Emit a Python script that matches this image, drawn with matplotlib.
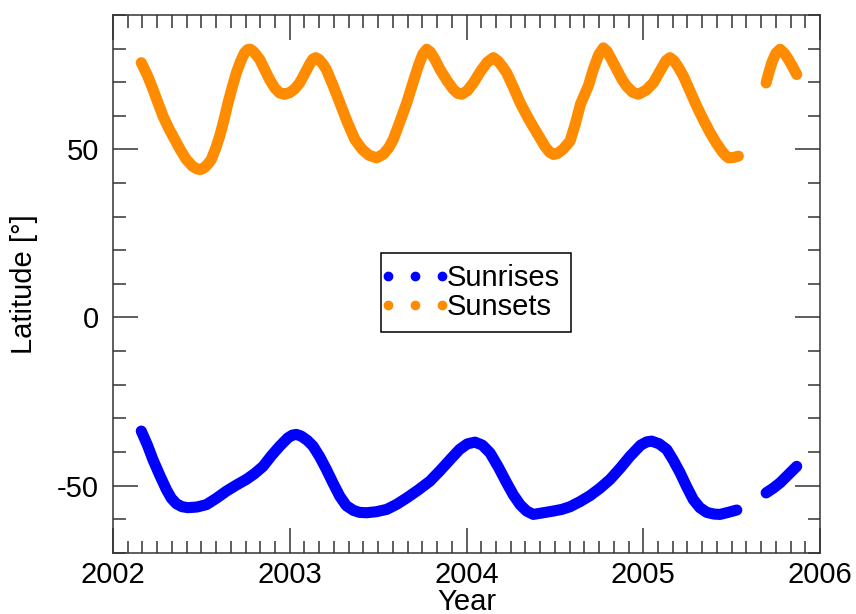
import numpy as np
import matplotlib
matplotlib.use('Agg')
import matplotlib.pyplot as plt
from matplotlib.lines import Line2D
from matplotlib.legend_handler import HandlerLine2D
from matplotlib.ticker import MultipleLocator

plt.rcParams['font.family'] = ['Liberation Sans', 'DejaVu Sans']
plt.rcParams['axes.unicode_minus'] = False

# sunsets (orange); two stretches with a gap in mid 2005
sunset_year_a = [2002.160, 2002.195, 2002.226, 2002.255, 2002.283, 2002.315, 2002.349, 2002.382,
                 2002.415, 2002.450, 2002.475, 2002.494, 2002.515, 2002.536, 2002.556, 2002.580,
                 2002.604, 2002.628, 2002.651, 2002.675, 2002.698, 2002.722, 2002.745, 2002.762,
                 2002.777, 2002.795, 2002.812, 2002.830, 2002.858, 2002.886, 2002.915, 2002.943,
                 2002.971, 2003.000, 2003.028, 2003.056, 2003.085, 2003.115, 2003.132, 2003.147,
                 2003.165, 2003.186, 2003.207, 2003.245, 2003.283, 2003.325, 2003.368, 2003.410,
                 2003.450, 2003.492, 2003.530, 2003.560, 2003.586, 2003.625, 2003.662, 2003.695,
                 2003.727, 2003.752, 2003.775, 2003.795, 2003.820, 2003.850, 2003.888, 2003.925,
                 2003.950, 2003.973, 2004.005, 2004.039, 2004.080, 2004.118, 2004.152, 2004.180,
                 2004.205, 2004.227, 2004.265, 2004.303, 2004.350, 2004.397, 2004.445, 2004.470,
                 2004.491, 2004.515, 2004.545, 2004.586, 2004.615, 2004.645, 2004.690, 2004.717,
                 2004.748, 2004.774, 2004.795, 2004.820, 2004.850, 2004.880, 2004.906, 2004.940,
                 2004.972, 2005.015, 2005.057, 2005.100, 2005.130, 2005.151, 2005.175, 2005.200,
                 2005.227, 2005.265, 2005.302, 2005.340, 2005.378, 2005.412, 2005.444, 2005.465,
                 2005.482, 2005.510, 2005.538]
sunset_lat_a = [75.8, 72.0, 67.9, 63.8, 59.9, 56.3, 53.0, 49.8,
                47.0, 45.0, 44.2, 44.0, 44.5, 45.6, 47.0, 50.2,
                54.0, 58.8, 63.9, 68.6, 72.8, 76.2, 78.8, 79.7,
                79.8, 79.1, 78.0, 76.8, 73.8, 70.8, 68.3, 66.8,
                66.4, 66.9, 68.0, 69.8, 72.6, 75.6, 76.9, 77.3,
                76.8, 75.5, 73.8, 69.0, 63.9, 58.2, 53.0, 50.0,
                48.2, 47.5, 48.6, 50.5, 53.0, 58.5, 63.9, 69.5,
                74.8, 78.3, 79.8, 79.0, 76.9, 73.8, 70.6, 67.9,
                66.7, 66.4, 67.5, 69.8, 73.3, 76.0, 77.3, 76.2,
                74.5, 72.8, 68.5, 63.9, 59.2, 55.0, 50.8, 49.2,
                48.5, 48.8, 50.0, 52.5, 57.5, 63.5, 69.0, 73.8,
                78.2, 80.2, 79.2, 76.8, 73.8, 70.8, 68.8, 67.0,
                66.4, 67.6, 69.8, 73.8, 76.5, 77.3, 76.3, 74.3,
                71.8, 67.3, 62.9, 58.8, 55.0, 52.0, 49.5, 48.2,
                47.5, 47.6, 48.0]
sunset_year_b = [2005.695, 2005.710, 2005.727, 2005.750, 2005.774, 2005.798, 2005.821, 2005.845,
                 2005.868]
sunset_lat_b = [69.8, 72.8, 75.8, 78.6, 79.8, 78.6, 76.8, 74.6, 72.3]

# sunrises (blue)
sunrise_year_a = [2002.160, 2002.195, 2002.226, 2002.265, 2002.302, 2002.330, 2002.358, 2002.390,
                  2002.424, 2002.475, 2002.528, 2002.585, 2002.641, 2002.700, 2002.754, 2002.800,
                  2002.849, 2002.895, 2002.943, 2002.990, 2003.015, 2003.037, 2003.065, 2003.100,
                  2003.132, 2003.170, 2003.207, 2003.245, 2003.283, 2003.320, 2003.360, 2003.395,
                  2003.435, 2003.490, 2003.549, 2003.605, 2003.662, 2003.730, 2003.793, 2003.850,
                  2003.907, 2003.960, 2004.005, 2004.048, 2004.090, 2004.133, 2004.180, 2004.227,
                  2004.265, 2004.303, 2004.340, 2004.378, 2004.435, 2004.491, 2004.540, 2004.586,
                  2004.642, 2004.699, 2004.755, 2004.812, 2004.870, 2004.925, 2004.985, 2005.020,
                  2005.048, 2005.090, 2005.133, 2005.170, 2005.208, 2005.245, 2005.283, 2005.320,
                  2005.359, 2005.400, 2005.434, 2005.480, 2005.529]
sunrise_lat_a = [-33.8, -38.0, -42.3, -47.0, -51.2, -53.8, -55.4, -56.3,
                 -56.6, -56.4, -55.7, -53.8, -51.7, -49.8, -48.2, -46.5,
                 -44.3, -41.2, -38.3, -35.8, -35.0, -34.8, -35.3, -36.6,
                 -38.3, -41.5, -45.2, -49.3, -53.2, -56.0, -57.4, -58.0,
                 -58.1, -57.8, -57.1, -55.6, -53.7, -51.2, -48.7, -45.6,
                 -42.3, -39.3, -37.6, -37.1, -38.0, -40.3, -44.5, -49.2,
                 -52.8, -55.7, -57.6, -58.6, -58.1, -57.6, -57.1, -56.3,
                 -54.8, -53.0, -50.8, -48.2, -44.8, -41.3, -38.0, -37.0,
                 -36.8, -37.6, -39.3, -42.5, -46.2, -50.3, -54.2, -56.6,
                 -58.0, -58.5, -58.6, -58.0, -57.3]
sunrise_year_b = [2005.695, 2005.735, 2005.774, 2005.820, 2005.868]
sunrise_lat_b = [-52.2, -50.8, -49.2, -46.8, -44.3]

labels = ['Sunrises', 'Sunsets']
colors = ['#0000ff', '#ff8c00']

fig = plt.figure(figsize=(8.56, 6.14), dpi=100)
ax = fig.add_axes([0.132, 0.0998, 0.826, 0.8758])

line_kw = dict(lw=8, solid_capstyle='round', solid_joinstyle='round')
ax.plot(sunrise_year_a, sunrise_lat_a, color=colors[0], **line_kw)
ax.plot(sunrise_year_b, sunrise_lat_b, color=colors[0], **line_kw)
ax.plot(sunset_year_a, sunset_lat_a, color=colors[1], **line_kw)
ax.plot(sunset_year_b, sunset_lat_b, color=colors[1], **line_kw)

ax.set_xlim(2002, 2006)
ax.set_ylim(-70, 90)
ax.xaxis.set_major_locator(MultipleLocator(1))
ax.xaxis.set_minor_locator(MultipleLocator(1 / 12))
ax.yaxis.set_major_locator(MultipleLocator(50))
ax.yaxis.set_minor_locator(MultipleLocator(10))
ax.xaxis.set_major_formatter(plt.FuncFormatter(lambda v, p: '%d' % round(v)))

ax.tick_params(which='both', direction='in', top=True, right=True, width=1.1,
               color='#333333', labelsize=21)
ax.tick_params(which='major', length=18)
ax.tick_params(which='minor', length=9)
ax.tick_params(axis='y', pad=10)
ax.tick_params(axis='x', pad=6)
for s in ax.spines.values():
    s.set_linewidth(1.1)
    s.set_color('#333333')

ax.set_xlabel('Year', fontsize=21, labelpad=-1)
ax.set_ylabel('Latitude [°]', fontsize=21, labelpad=14)

handles = [Line2D([], [], ls='none', marker='o', ms=6, color=c) for c in colors]
leg = ax.legend(handles, labels, numpoints=3, loc='upper left',
                bbox_to_anchor=(0.379, 0.557),
                handler_map={Line2D: HandlerLine2D(marker_pad=-0.12)},
                fontsize=21, handlelength=1.6, handletextpad=0.3,
                borderpad=0.37, labelspacing=0.05, borderaxespad=0,
                fancybox=False, framealpha=1)
leg.get_frame().set_edgecolor('black')
leg.get_frame().set_linewidth(1.1)

fig.savefig('out.png', dpi=100)
